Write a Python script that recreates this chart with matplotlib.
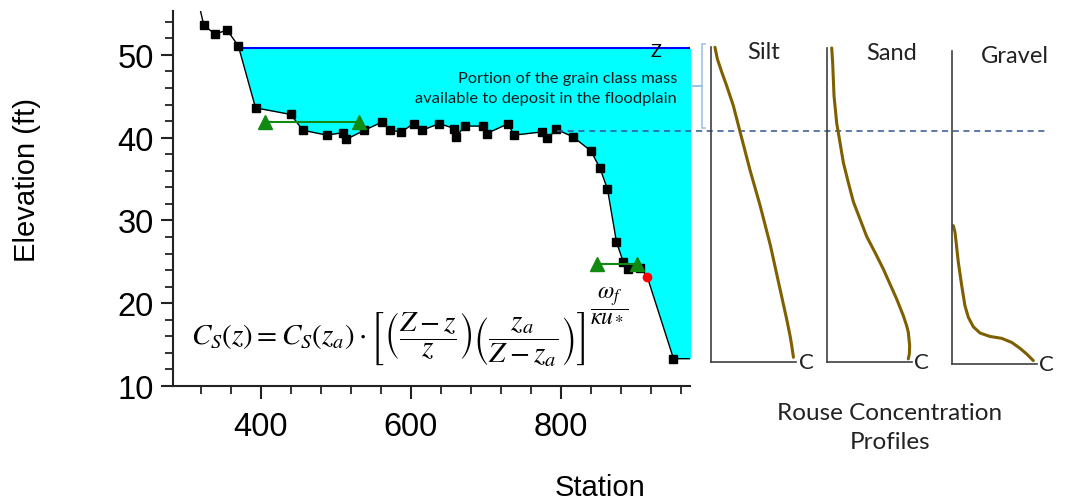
import matplotlib
matplotlib.use("Agg")
import matplotlib.pyplot as plt
from matplotlib.ticker import MultipleLocator
import numpy as np

plt.rcParams['mathtext.fontset'] = 'stix'

# ---------------- data ----------------
station = [314, 324, 339, 355, 370, 393, 440, 456, 488, 509, 514, 538, 562, 572,
           587, 604, 615, 638, 658, 660, 672, 696, 701, 730, 737, 775, 782, 794,
           816, 840, 852, 862, 874, 883, 890, 906, 915, 950, 990]
elevation = [57.5, 53.6, 52.5, 53.0, 51.1, 43.6, 42.8, 40.9, 40.3, 40.6, 39.8,
             40.9, 41.9, 40.9, 40.7, 41.7, 40.9, 41.7, 41.1, 40.1, 41.4, 41.4,
             40.5, 41.7, 40.3, 40.7, 39.9, 41.0, 40.1, 38.4, 36.3, 33.8, 27.4,
             25.0, 24.1, 24.3, 23.2, 13.3, 13.3]
square_idx = [i for i in range(1, len(station) - 1) if station[i] != 915]

ws_elev = 50.8
ws_left_station = 370.5

levee_left_station = [406, 531]
levee_left_elev = [41.9, 41.9]
levee_right_station = [848, 901]
levee_right_elev = [24.7, 24.7]

red_station = [915]
red_elev = [23.2]

dash_station = [795, 1445]
dash_elev = [40.85, 40.85]

bracket_station = [992, 987.6, 987.6, 976, 987.6, 987.6, 992]
bracket_elev = [51.3, 51.3, 46.3, 46.3, 46.3, 41.2, 41.2]

x_ticks = [400, 600, 800]
y_ticks = [10, 20, 30, 40, 50]

# Rouse profiles (concentration %, height % of depth)
silt_c = [5, 7.8, 13, 18.7, 26.5, 34.5, 46, 58, 70, 79.5, 89, 93, 95, 97]
silt_z = [99.9, 96.2, 92, 87.7, 81.4, 73, 61, 49.6, 37, 25.3, 13.7, 8.4, 5.2, 1.5]
sand_c = [5.9, 7.0, 8.6, 11.8, 15.6, 19.6, 25.4, 31.4, 39.2, 47, 56.8, 66.6,
          74.5, 82.4, 90.2, 94, 96, 97.6, 97.2, 96]
sand_z = [100, 95.4, 84.8, 76, 70, 63.5, 57.2, 51, 45.5, 40, 34.9, 29.6,
          24.8, 20, 14.7, 11.6, 9.5, 5.2, 2.5, 1]
gravel_c = [1.9, 3.9, 7.8, 11.8, 15.6, 19.6, 25.4, 33.3, 45, 58.8, 70.6, 80.4,
            88.2, 96]
gravel_z = [44.2, 42.1, 32.5, 25.0, 18.6, 14.9, 11.9, 9.9, 8.8, 8.2, 6.9, 5.0,
            3.2, 1.1]

# ---------------- figure ----------------
W, H = 1065, 502
fig = plt.figure(figsize=(W / 100, H / 100), dpi=100)
ax = fig.add_axes([173 / W, 1 - 387 / H, (690 - 173) / W, (387 - 12) / H])

st = np.array(station, float)
el = np.array(elevation, float)
ax.fill_between(st, el, ws_elev, where=el <= ws_elev, interpolate=True,
                color='#00FFFF', lw=0, zorder=1)
ax.plot([ws_left_station, 990], [ws_elev, ws_elev], color='#0000FF', lw=1.5, zorder=2)
ax.plot(station, elevation, color='black', lw=1.0, zorder=3)
ax.plot(st[square_idx], el[square_idx], ls='none', marker='s', ms=5.8,
        color='black', zorder=4)
ax.plot(levee_left_station, levee_left_elev, color='#108A10', lw=1.5,
        marker='^', ms=9.5, zorder=5)
ax.plot(levee_right_station, levee_right_elev, color='#108A10', lw=1.5,
        marker='^', ms=9.5, zorder=5)
ax.plot(red_station, red_elev, ls='none', marker='o', ms=6, color='#FF0000', zorder=6)
ax.plot(dash_station, dash_elev, color='#2F5597', lw=1.1, ls=(0, (4, 3)),
        clip_on=False, zorder=7)
ax.plot(bracket_station, bracket_elev, color='#9DC3E6', lw=1.2, clip_on=False)

ax.set_xlim(283, 972)
ax.set_ylim(10, 55.3)
ax.set_xticks(x_ticks)
ax.set_yticks(y_ticks)
ax.xaxis.set_minor_locator(MultipleLocator(40))
ax.yaxis.set_minor_locator(MultipleLocator(2))
for s in ['top', 'right']:
    ax.spines[s].set_visible(False)
for s in ['left', 'bottom']:
    ax.spines[s].set_linewidth(1.5)
    ax.spines[s].set_color('#222222')
ax.tick_params(which='major', length=9, width=1.5, color='#222222', labelsize=23.5)
ax.tick_params(which='minor', length=6, width=1.3, color='#222222')
ax.tick_params(axis='x', which='major', pad=9)
ax.tick_params(axis='y', which='major', pad=5)
for lab in ax.get_xticklabels() + ax.get_yticklabels():
    lab.set_family('Liberation Sans')

ax.text(926.7, 50.45, 'Z', fontsize=13, family='Lato', ha='center', va='center')
ax.text(955, 46.0, 'Portion of the grain class mass\navailable to deposit in the floodplain',
        fontsize=11.8, family='Lato', ha='right', va='center', color='#1a1a1a',
        multialignment='right', linespacing=1.55)

eq = (r'$C_S(z) = C_S(z_a)\cdot\left[\left(\dfrac{Z-z}{z}\right)'
      r'\left(\dfrac{z_a}{Z-z_a}\right)\right]$')
eq_text = ax.text(307, 15.0, eq, fontsize=21, ha='left', va='baseline', zorder=8)
ax.annotate(r'$\dfrac{\omega_f}{\kappa u_*}$', xy=(1.0, 1.12), xycoords=eq_text,
            xytext=(3, 0), textcoords='offset points', fontsize=17,
            ha='left', va='center', zorder=8)

fig.text(600 / W, 1 - 488 / H, 'Station', fontsize=21, family='Liberation Sans',
         ha='center', va='center')
fig.text(27 / W, 1 - 180 / H, 'Elevation (ft)', fontsize=21, family='Liberation Sans',
         ha='center', va='center', rotation=90)

# ---------------- Rouse profile panels ----------------
panels = [
    ('Silt', silt_c, silt_z, [710.7, 48, 796, 363], 0.625),
    ('Sand', sand_c, sand_z, [826.7, 49, 911.7, 363], 0.765),
    ('Gravel', gravel_c, gravel_z, [951.7, 52, 1036.7, 365], 0.745),
]
for name, cc, zz, (l, t, r, b), tx in panels:
    pax = fig.add_axes([l / W, 1 - b / H, (r - l) / W, (b - t) / H])
    pax.set_xlim(0, 100)
    pax.set_ylim(0, 100)
    pax.plot(cc, zz, color='#7F6000', lw=2.2, clip_on=False,
             solid_capstyle='round', solid_joinstyle='round')
    for s in ['top', 'right']:
        pax.spines[s].set_visible(False)
    for s in ['left', 'bottom']:
        pax.spines[s].set_linewidth(1.2)
        pax.spines[s].set_color('#404040')
    pax.set_xticks([])
    pax.set_yticks([])
    pax.patch.set_alpha(0)
    pax.text(tx, 0.985, name, transform=pax.transAxes, fontsize=17, family='Lato',
             ha='center', va='center', color='#222222')
    pax.text(1.03, 0.0, 'C', transform=pax.transAxes, fontsize=16, family='Lato',
             ha='left', va='center', color='#222222')

fig.text(890 / W, 1 - 413 / H, 'Rouse Concentration', fontsize=17.5, family='Lato',
         ha='center', va='center', color='#222222')
fig.text(890 / W, 1 - 443 / H, 'Profiles', fontsize=17.5, family='Lato',
         ha='center', va='center', color='#222222')

fig.savefig('out.png', dpi=100)
